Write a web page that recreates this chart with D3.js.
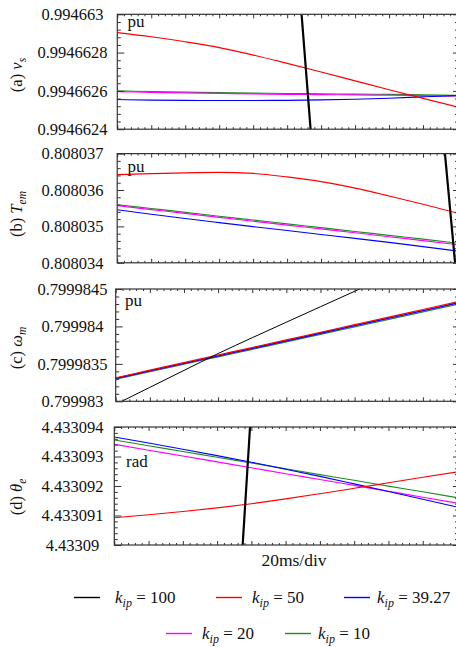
<!DOCTYPE html>
<html><head><meta charset="utf-8">
<script src="https://cdn.jsdelivr.net/npm/d3@7"></script>
<style>
html,body{margin:0;padding:0;background:#fff;}
svg, svg text{font-family:"Liberation Serif","Tinos","DejaVu Serif","Noto Serif",serif;}
</style>
</head><body>
<svg id="chart" width="456" height="647"></svg>
<script>
// ---------- DATA ----------
const timeMs = [0, 20, 40, 60, 80, 100, 120, 140, 160, 180, 200];   // 20 ms/div

// (a) stator voltage v_s (pu)
const vsTicks  = [0.9946624, 0.9946626, 0.9946628, 0.994663];
const vsK50    = [0.9946629045, 0.9946628826, 0.9946628565, 0.9946628263, 0.9946627871, 0.9946627438, 0.9946626990, 0.9946626525, 0.9946626061, 0.9946625607, 0.9946625164];
const vsK3927  = [0.9946625550, 0.9946625518, 0.9946625503, 0.9946625497, 0.9946625497, 0.9946625508, 0.9946625529, 0.9946625565, 0.9946625617, 0.9946625690, 0.9946625758];
const vsK20    = [0.9946625956, 0.9946625925, 0.9946625894, 0.9946625868, 0.9946625842, 0.9946625821, 0.9946625805, 0.9946625789, 0.9946625774, 0.9946625753, 0.9946625732];
const vsK10    = [0.9946625998, 0.9946625967, 0.9946625936, 0.9946625910, 0.9946625884, 0.9946625863, 0.9946625847, 0.9946625831, 0.9946625816, 0.9946625795, 0.9946625774];
const vsK100Time = [108, 114.3];
const vsK100     = [0.9946630566, 0.9946623434];

// (b) electromagnetic torque T_em (pu)
const temTicks = [0.808034, 0.808035, 0.808036, 0.808037];
const temK50   = [0.8080364220, 0.8080364495, 0.8080364715, 0.8080364825, 0.8080364550, 0.8080363587, 0.8080362293, 0.8080360504, 0.8080358357, 0.8080356100, 0.8080353677];
const temK3927 = [0.8080354586, 0.8080353347, 0.8080352163, 0.8080351035, 0.8080349934, 0.8080348861, 0.8080347787, 0.8080346714, 0.8080345612, 0.8080344456, 0.8080343245];
const temK20   = [0.8080355687, 0.8080354627, 0.8080353567, 0.8080352480, 0.8080351420, 0.8080350360, 0.8080349301, 0.8080348241, 0.8080347154, 0.8080346094, 0.8080345007];
const temK10   = [0.8080355962, 0.8080354916, 0.8080353870, 0.8080352797, 0.8080351751, 0.8080350705, 0.8080349659, 0.8080348613, 0.8080347539, 0.8080346493, 0.8080345420];
const temK100Time = [192.5, 200];
const temK100     = [0.8080372010, 0.8080334325];

// (c) rotor speed omega_m (pu)
const wmTicks  = [0.799983, 0.7999835, 0.799984, 0.7999845];
const wmK50    = [0.7999833148, 0.7999834159, 0.7999835170, 0.7999836181, 0.7999837193, 0.7999838203, 0.7999839228, 0.7999840239, 0.7999841251, 0.7999842261, 0.7999843272];
const wmK3927  = [0.7999833041, 0.7999834045, 0.7999835050, 0.7999836054, 0.7999837059, 0.7999838063, 0.7999839081, 0.7999840085, 0.7999841090, 0.7999842094, 0.7999843098];
const wmK20    = [0.7999833081, 0.7999834085, 0.7999835090, 0.7999836094, 0.7999837099, 0.7999838103, 0.7999839121, 0.7999840125, 0.7999841130, 0.7999842134, 0.7999843138];
const wmK10    = [0.7999832947, 0.7999833944, 0.7999834943, 0.7999835940, 0.7999836938, 0.7999837936, 0.7999838947, 0.7999839944, 0.7999840943, 0.7999841940, 0.7999842937];
const wmK100Time = [0, 20, 40, 60, 80, 100, 120, 140, 150];
const wmK100     = [0.7999829599, 0.7999831862, 0.7999834125, 0.7999836375, 0.7999838491, 0.7999840567, 0.7999842630, 0.7999844692, 0.7999845723];

// (d) electrical angle theta_e (rad)
const thTicks  = [4.43309, 4.433091, 4.433092, 4.433093, 4.433094];
const thK50    = [4.4330909254, 4.4330910271, 4.4330911356, 4.4330912576, 4.4330914000, 4.4330915627, 4.4330917390, 4.4330919220, 4.4330921085, 4.4330922949, 4.4330924780];
const thK3927  = [4.4330936610, 4.4330934576, 4.4330932475, 4.4330930305, 4.4330928068, 4.4330925695, 4.4330923254, 4.4330920712, 4.4330918136, 4.4330915525, 4.4330912881];
const thK20    = [4.4330934136, 4.4330932136, 4.4330930169, 4.4330928169, 4.4330926169, 4.4330924169, 4.4330922203, 4.4330920203, 4.4330918203, 4.4330916203, 4.4330914237];
const thK10    = [4.4330935593, 4.4330933627, 4.4330931695, 4.4330929729, 4.4330927797, 4.4330925831, 4.4330923864, 4.4330921932, 4.4330919966, 4.4330918034, 4.4330916068];
const thK100Time = [74.6, 79.5];
const thK100     = [4.4330897209, 4.4330942791];

// legend
const kipValues   = ["100", "50", "39.27", "20", "10"];
const seriesColor = {"100": "#000000", "50": "#ff0000", "39.27": "#0000ff", "20": "#ff00ff", "10": "#1e8c1e"};

// ---------- LAYOUT ----------
const FONT = "'Liberation Serif', Tinos, 'DejaVu Serif', 'Noto Serif', serif";
const RIGHT = 457;
const panels = [
  {letter: "(a) ", sym: "v", sub: "s", unit: "pu", top: 14.3, bottom: 129.2, left: 117.3, ticks: vsTicks, titleY: 75, unitXY: [127.5, 26.5],
   lines: [["10", timeMs, vsK10], ["20", timeMs, vsK20], ["39.27", timeMs, vsK3927], ["50", timeMs, vsK50], ["100", vsK100Time, vsK100]], bw: 2.2},
  {letter: "(b) ", sym: "T", sub: "em", unit: "pu", top: 153.6, bottom: 262.8, left: 117.2, ticks: temTicks, titleY: 214, unitXY: [127.5, 171.5],
   lines: [["10", timeMs, temK10], ["20", timeMs, temK20], ["39.27", timeMs, temK3927], ["50", timeMs, temK50], ["100", temK100Time, temK100]], bw: 2.2},
  {letter: "(c) ", sym: "\u03c9", sub: "m", unit: "pu", top: 289, bottom: 401.3, left: 115.7, ticks: wmTicks, titleY: 348, unitXY: [125, 305.5],
   lines: [["10", timeMs, wmK10], ["20", timeMs, wmK20], ["39.27", timeMs, wmK3927], ["50", timeMs, wmK50], ["100", wmK100Time, wmK100]], bw: 1.0},
  {letter: "(d) ", sym: "\u03b8", sub: "e", unit: "rad", top: 427, bottom: 545, left: 114.3, ticks: thTicks, titleY: 497, unitXY: [126, 467],
   lines: [["10", timeMs, thK10], ["20", timeMs, thK20], ["39.27", timeMs, thK3927], ["50", timeMs, thK50], ["100", thK100Time, thK100]], bw: 2.2}
];

const svg = d3.select("#chart").attr("font-family", FONT);
const defs = svg.append("defs");
const frameColor = "#333";

panels.forEach((p, i) => {
  const x = d3.scaleLinear().domain([0, 200]).range([p.left, RIGHT]);
  const y = d3.scaleLinear().domain([p.ticks[0], p.ticks[p.ticks.length - 1]]).range([p.bottom, p.top]);
  const g = svg.append("g");

  defs.append("clipPath").attr("id", "clip" + i).append("rect")
    .attr("x", p.left).attr("y", p.top).attr("width", RIGHT - p.left).attr("height", p.bottom - p.top);

  // series
  const lg = g.append("g").attr("clip-path", `url(#clip${i})`);
  p.lines.forEach(([k, ts, vs]) => {
    const pts = ts.map((t, j) => [t, vs[j]]);
    const line = d3.line().x(d => x(d[0])).y(d => y(d[1])).curve(d3.curveMonotoneX);
    lg.append("path").attr("d", line(pts)).attr("fill", "none")
      .attr("stroke", seriesColor[k])
      .attr("stroke-width", k === "100" ? p.bw : 1.15);
  });

  // frame
  g.append("rect").attr("x", p.left).attr("y", p.top).attr("width", RIGHT - p.left).attr("height", p.bottom - p.top)
    .attr("fill", "none").attr("stroke", frameColor).attr("stroke-width", 1.2);

  // x ticks (top and bottom) via d3 axes
  const xMajor = d3.range(0, 201, 20), xMinor = d3.range(0, 201, 4).filter(v => v % 20 !== 0);
  const axStyle = sel => { sel.select(".domain").remove(); sel.selectAll("line").attr("stroke", frameColor).attr("stroke-width", 1); sel.selectAll("text").remove(); };
  g.append("g").attr("transform", `translate(0,${p.top})`).call(d3.axisBottom(x).tickValues(xMajor).tickSize(4)).call(axStyle);
  g.append("g").attr("transform", `translate(0,${p.top})`).call(d3.axisBottom(x).tickValues(xMinor).tickSize(2)).call(axStyle);
  g.append("g").attr("transform", `translate(0,${p.bottom})`).call(d3.axisTop(x).tickValues(xMajor).tickSize(4)).call(axStyle);
  g.append("g").attr("transform", `translate(0,${p.bottom})`).call(d3.axisTop(x).tickValues(xMinor).tickSize(2)).call(axStyle);

  // y ticks
  const step = (p.ticks[1] - p.ticks[0]) / 5;
  const nMinor = Math.round((p.ticks[p.ticks.length - 1] - p.ticks[0]) / step);
  const yMinor = d3.range(0, nMinor + 1).filter(j => j % 5 !== 0).map(j => p.ticks[0] + j * step);
  g.append("g").attr("transform", `translate(${p.left},0)`).call(d3.axisRight(y).tickValues(p.ticks).tickSize(7)).call(axStyle);
  g.append("g").attr("transform", `translate(${p.left},0)`).call(d3.axisRight(y).tickValues(yMinor).tickSize(3.5)).call(axStyle);
  g.append("g").attr("transform", `translate(${RIGHT},0)`).call(d3.axisLeft(y).tickValues(p.ticks).tickSize(4)).call(axStyle);
  g.append("g").attr("transform", `translate(${RIGHT},0)`).call(d3.axisLeft(y).tickValues(yMinor).tickSize(2)).call(axStyle);

  // y tick labels
  g.selectAll("text.yl").data(p.ticks).join("text").attr("class", "yl")
    .attr("x", 72.5).attr("y", d => y(d)).attr("dy", "0.35em")
    .attr("text-anchor", "middle").attr("font-size", 16.5).attr("fill", "#111")
    .attr("font-family", FONT)
    .text(d => String(d));

  // axis title (rotated)
  const t = g.append("text").attr("transform", `translate(22,${p.titleY}) rotate(-90)`)
    .attr("text-anchor", "middle").attr("font-size", 16.5).attr("fill", "#111").attr("font-family", FONT);
  t.append("tspan").text(p.letter);
  t.append("tspan").attr("font-style", "italic").text(p.sym);
  t.append("tspan").attr("font-style", "italic").attr("font-size", 11.5).attr("dy", 4).text(p.sub);

  // unit
  g.append("text").attr("x", p.unitXY[0]).attr("y", p.unitXY[1]).attr("font-size", 17).attr("fill", "#111")
    .attr("font-family", FONT).text(p.unit);
});

// x-axis caption
svg.append("text").attr("x", 294).attr("y", 566).attr("text-anchor", "middle")
  .attr("font-size", 17.5).attr("fill", "#111").attr("font-family", FONT).text("20ms/div");

// legend
const legendPos = [[74, 597.5], [216, 597.5], [344, 597.5], [166, 633.5], [285, 633.5]];
const textGap = [15, 10, 7, 10, 7];
kipValues.forEach((k, i) => {
  const [lx, ly] = legendPos[i];
  svg.append("line").attr("x1", lx).attr("x2", lx + 26).attr("y1", ly).attr("y2", ly)
    .attr("stroke", seriesColor[k]).attr("stroke-width", 1.4);
  const tx = svg.append("text").attr("x", lx + 26 + textGap[i]).attr("y", ly + 5.5)
    .attr("font-size", 17).attr("fill", "#111").attr("font-family", FONT);
  tx.append("tspan").attr("font-style", "italic").text("k");
  tx.append("tspan").attr("font-style", "italic").attr("font-size", 12).attr("dy", 3.5).text("ip");
  tx.append("tspan").attr("dy", -3.5).text(" = " + k);
});
</script>
</body></html>
